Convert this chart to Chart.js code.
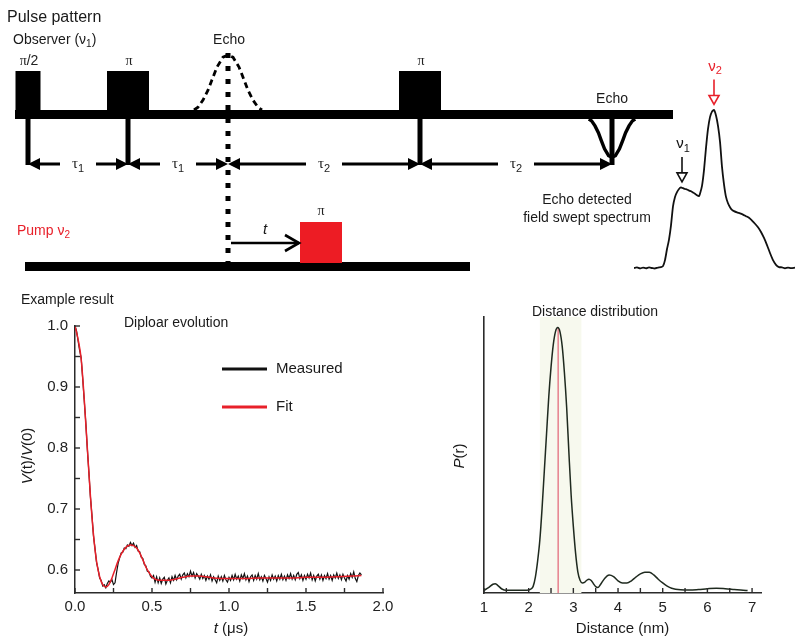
<!DOCTYPE html>
<html><head><meta charset="utf-8">
<script src="https://cdn.jsdelivr.net/npm/chart.js@4.4.1/dist/chart.umd.min.js"></script>
<style>
html,body{margin:0;padding:0;background:#fff;}
#wrap{position:relative;width:800px;height:643px;overflow:hidden;background:#fff;}
canvas{position:absolute;}
</style></head><body>
<div id="wrap">
<canvas id="diag" width="800" height="280" style="left:0;top:0"></canvas>
<canvas id="spec" width="170" height="220" style="left:630px;top:60px"></canvas>
<canvas id="dip" width="400" height="363" style="left:0;top:280px"></canvas>
<canvas id="dist" width="400" height="363" style="left:400px;top:280px"></canvas>
</div>
<script>
// ---------------- DATA ----------------
// Pulse sequence (time units, arbitrary ns-like)
const OBS_PULSES = [{label:'π/2', t:0, len:25}, {label:'π', t:100, len:42}, {label:'π', t:392, len:42}];
const ECHOES = [{label:'Echo', t:200, virtual:true}, {label:'Echo', t:584, virtual:false}];
const DELAYS = [{from:0, to:100, sub:'1'}, {from:100, to:200, sub:'1'}, {from:200, to:392, sub:'2'}, {from:392, to:584, sub:'2'}];
const PUMP_PULSE = {label:'π', t:293, len:42};
const OBS_SPAN = [-13, 645];
const PUMP_SPAN = [-3, 442];
const ECHO_DT = [-34, -30, -25, -20, -16, -11, -5, 0, 5, 11, 16, 20, 25, 30, 34];
const ECHO_A  = [0, 0.05, 0.18, 0.36, 0.55, 0.78, 0.96, 1, 0.96, 0.78, 0.55, 0.36, 0.18, 0.05, 0];

// Echo detected field swept spectrum
const specField = [0,3,6,9,12,15,18,21,24,27,29,31,33,35,37,39,41,43,45,47,49,51,53,55,57,59,61,63,65,66,68,70,72,74,76,78,80,82,84,86,88,90,92,94,96,98,100,103,106,109,112,115,118,121,124,127,130,133,136,139,142,145,148,151,154,157,161];
const specInt = [0,0.004,-0.003,0.003,-0.002,0.004,0,-0.003,0.003,0.005,0.012,0.05,0.12,0.18,0.27,0.39,0.45,0.48,0.50,0.51,0.505,0.50,0.497,0.49,0.486,0.478,0.47,0.46,0.455,0.47,0.52,0.62,0.76,0.88,0.955,0.99,1.0,0.965,0.90,0.80,0.64,0.53,0.45,0.41,0.385,0.368,0.36,0.352,0.346,0.338,0.328,0.318,0.30,0.28,0.258,0.228,0.19,0.145,0.095,0.05,0.02,0.006,0.004,-0.002,0.003,-0.001,0.002];
const specMarks = [{sym:'ν', sub:'1', field:48, tip:0.545, color:'#111111'}, {sym:'ν', sub:'2', field:80, tip:1.035, color:'#e8202a'}];

// Dipolar evolution
const measuredT0 = 0, measuredDt = 0.01; // sampling grid (µs)
const measuredV = [
1.000,0.992,0.976,0.960,0.948,0.914,0.878,0.842,0.799,0.761,
0.720,0.690,0.656,0.635,0.612,0.601,0.587,0.583,0.574,0.576,
0.571,0.578,0.582,0.580,0.584,0.576,0.579,0.596,0.611,0.620,
0.628,0.629,0.636,0.635,0.641,0.639,0.645,0.640,0.644,0.637,
0.640,0.631,0.630,0.621,0.619,0.609,0.607,0.598,0.597,0.590,
0.587,0.591,0.580,0.589,0.579,0.587,0.578,0.585,0.588,0.577,
0.583,0.587,0.579,0.589,0.583,0.591,0.584,0.590,0.593,0.585,
0.592,0.595,0.587,0.594,0.589,0.598,0.590,0.596,0.587,0.594,
0.590,0.585,0.593,0.586,0.591,0.583,0.590,0.585,0.592,0.582,
0.589,0.584,0.579,0.590,0.583,0.589,0.582,0.591,0.584,0.580,
0.588,0.583,0.591,0.584,0.593,0.585,0.590,0.582,0.592,0.586,
0.594,0.584,0.590,0.581,0.589,0.592,0.583,0.591,0.585,0.594,
0.584,0.589,0.582,0.591,0.586,0.580,0.589,0.583,0.592,0.585,
0.590,0.582,0.591,0.585,0.593,0.584,0.590,0.583,0.592,0.586,
0.594,0.585,0.591,0.584,0.593,0.596,0.586,0.592,0.583,0.591,
0.585,0.593,0.587,0.595,0.584,0.591,0.582,0.590,0.593,0.585,
0.592,0.583,0.591,0.586,0.594,0.585,0.591,0.583,0.592,0.587,
0.595,0.586,0.592,0.584,0.593,0.587,0.582,0.591,0.585,0.594,
0.588,0.597,0.586,0.581,0.591,0.595,0.592];
const fitT = [0,0.02,0.04,0.06,0.08,0.10,0.12,0.14,0.16,0.18,0.20,0.22,0.24,0.26,0.28,0.30,0.32,0.34,0.36,0.38,0.40,0.42,0.44,0.46,0.48,0.50,0.52,0.55,0.60,0.65,0.70,0.75,0.80,0.85,0.90,1.00,1.10,1.20,1.30,1.40,1.50,1.60,1.70,1.80,1.86];
const fitV = [1.000,0.978,0.946,0.880,0.800,0.722,0.658,0.614,0.589,0.576,0.572,0.576,0.587,0.601,0.615,0.626,0.634,0.639,0.641,0.640,0.636,0.628,0.617,0.605,0.596,0.589,0.585,0.583,0.583,0.585,0.588,0.590,0.590,0.589,0.587,0.586,0.586,0.587,0.587,0.587,0.588,0.588,0.589,0.590,0.591];
const dipXTicks = [0,0.25,0.5,0.75,1.0,1.25,1.5,1.75,2.0];
const dipYTicks = [0.6,0.65,0.7,0.75,0.8,0.85,0.9,0.95,1.0];
const dipLegend = [{label:'Measured', color:'#111111'}, {label:'Fit', color:'#e8202a'}];

// Distance distribution
const distR = [1.00,1.10,1.20,1.25,1.30,1.40,1.50,1.70,1.90,2.00,2.05,2.10,2.15,2.20,2.25,2.30,2.35,2.40,2.45,2.50,2.55,2.60,2.65,2.70,2.75,2.80,2.85,2.90,2.95,3.00,3.05,3.10,3.15,3.20,3.25,3.30,3.35,3.40,3.45,3.50,3.55,3.60,3.70,3.80,3.90,4.00,4.10,4.20,4.30,4.40,4.50,4.60,4.70,4.80,4.90,5.00,5.10,5.20,5.40,5.60,5.80,6.00,6.20,6.40,6.60,6.80,6.90];
const distP = [0.010,0.020,0.033,0.035,0.030,0.015,0.010,0.010,0.010,0.011,0.015,0.025,0.060,0.120,0.200,0.320,0.460,0.600,0.740,0.850,0.935,0.985,1.000,0.985,0.930,0.830,0.700,0.530,0.370,0.250,0.150,0.080,0.048,0.038,0.040,0.048,0.052,0.047,0.035,0.024,0.021,0.030,0.055,0.068,0.062,0.046,0.038,0.038,0.046,0.060,0.072,0.078,0.078,0.068,0.052,0.038,0.026,0.018,0.012,0.011,0.013,0.016,0.018,0.016,0.013,0.010,0.009];
const distXTicks = [1,1.5,2,2.5,3,3.5,4,4.5,5,5.5,6,6.5,7];
const distBand = [2.25, 3.18];
const distMean = 2.66;

// ---------------- STYLE ----------------
const SANS = '"Liberation Sans", Arial, Helvetica, sans-serif';
const SERIF = '"Liberation Serif", "Times New Roman", serif';
const RED = '#e8202a';
const INK = '#1a1a1a';
const AXIS = '#2b2b2b';
Chart.defaults.font.family = SANS;

function rich(ctx, parts, x, y, opt) {
  const size = opt.size || 14;
  const fontFor = p => (p.italic ? 'italic ' : '') + (p.sub ? Math.round(size * 0.72) : size) + 'px ' + (p.serif ? SERIF : SANS);
  let w = 0;
  parts.forEach(p => { ctx.font = fontFor(p); p.w = ctx.measureText(p.t).width; w += p.w; });
  let cx = opt.align === 'center' ? x - w / 2 : (opt.align === 'right' ? x - w : x);
  ctx.textAlign = 'left'; ctx.textBaseline = 'middle';
  parts.forEach(p => {
    ctx.font = fontFor(p);
    ctx.fillStyle = p.color || opt.color || INK;
    ctx.fillText(p.t, cx, y + (p.sub ? size * 0.32 : 0));
    cx += p.w;
  });
}

function innerTicks(chart, id, len, horizontal) {
  const ctx = chart.ctx, s = chart.scales[id], a = chart.chartArea;
  ctx.save(); ctx.strokeStyle = AXIS; ctx.lineWidth = 1.4;
  s.ticks.forEach(t => {
    const p = s.getPixelForValue(t.value);
    ctx.beginPath();
    if (horizontal) { ctx.moveTo(p, a.bottom); ctx.lineTo(p, a.bottom - len); }
    else { ctx.moveTo(a.left, p); ctx.lineTo(a.left + len, p); }
    ctx.stroke();
  });
  ctx.restore();
}

// ---------------- PULSE DIAGRAM ----------------
const L = {obsTop:110, obsH:9, pulseH:39, arrowY:164, echoH:55, echo2Depth:45, pumpTop:262, pumpH:9, pumpPulseH:40, tArrowY:243, pulseLabelY:61, echoLabelY:40};
const diagPlugin = {
  id: 'pulseDiagram',
  afterDraw(chart) {
    const ctx = chart.ctx, sx = chart.scales.x, sy = chart.scales.y;
    const X = v => sx.getPixelForValue(v), Y = v => sy.getPixelForValue(v);
    ctx.save();
    rich(ctx, [{t:'Pulse pattern'}], 7, Y(18), {size:16});
    rich(ctx, [{t:'Observer (ν'}, {t:'1', sub:true}, {t:')'}], 13, Y(40), {size:14});
    ctx.fillStyle = '#000';
    ctx.fillRect(X(OBS_SPAN[0]), Y(L.obsTop), X(OBS_SPAN[1]) - X(OBS_SPAN[0]), L.obsH);
    OBS_PULSES.forEach(p => {
      ctx.fillStyle = '#000';
      ctx.fillRect(X(p.t - p.len / 2), Y(L.obsTop - L.pulseH), X(p.t + p.len / 2) - X(p.t - p.len / 2), L.pulseH + 1);
      const parts = p.label === 'π' ? [{t:'π', serif:true}] : [{t:'π', serif:true}, {t:'/2'}];
      rich(ctx, parts, X(p.t) + 1, Y(L.pulseLabelY), {size:14, align:'center', color:'#222'});
      ctx.fillStyle = '#000';
      ctx.fillRect(X(p.t) - 2.5, Y(L.obsTop + L.obsH), 5, L.arrowY - L.obsTop - L.obsH + 1);
    });
    ECHOES.forEach(e => {
      ctx.strokeStyle = '#000';
      if (e.virtual) {
        ctx.lineWidth = 2.8; ctx.setLineDash([6, 4]);
        ctx.beginPath();
        ECHO_DT.forEach((d, i) => { const x = X(e.t + d), y = Y(L.obsTop - ECHO_A[i] * L.echoH); i ? ctx.lineTo(x, y) : ctx.moveTo(x, y); });
        ctx.stroke();
        ctx.lineWidth = 5; ctx.setLineDash([5, 8]);
        ctx.beginPath(); ctx.moveTo(X(e.t), Y(L.obsTop - L.echoH - 2)); ctx.lineTo(X(e.t), Y(L.pumpTop + L.pumpH + 1)); ctx.stroke();
        ctx.setLineDash([]);
        rich(ctx, [{t:e.label}], X(e.t) + 1, Y(L.echoLabelY), {size:14, align:'center'});
      } else {
        ctx.lineWidth = 3.4; ctx.setLineDash([]);
        [-1, 1].forEach(side => {
          ctx.beginPath();
          const idx = side < 0 ? [0,1,2,3,4,5,6,7] : [14,13,12,11,10,9,8,7];
          idx.forEach((k, j) => { const x = X(e.t + ECHO_DT[k] * 0.68), y = Y(L.obsTop + L.obsH + ECHO_A[k] * L.echo2Depth * 0.85); j ? ctx.lineTo(x, y) : ctx.moveTo(x, y); });
          ctx.stroke();
        });
        ctx.fillStyle = '#000';
        ctx.fillRect(X(e.t) - 2.5, Y(L.obsTop + L.obsH), 5, L.arrowY - L.obsTop - L.obsH + 1);
        rich(ctx, [{t:e.label}], X(e.t), Y(L.obsTop - 11), {size:14, align:'center'});
      }
    });
    DELAYS.forEach(d => {
      const x1 = X(d.from), x2 = X(d.to), mid = (x1 + x2) / 2, y = Y(L.arrowY);
      ctx.strokeStyle = '#000'; ctx.fillStyle = '#000'; ctx.lineWidth = 3;
      ctx.beginPath(); ctx.moveTo(x1 + 4, y); ctx.lineTo(mid - 18, y); ctx.moveTo(mid + 18, y); ctx.lineTo(x2 - 4, y); ctx.stroke();
      ctx.beginPath(); ctx.moveTo(x1, y); ctx.lineTo(x1 + 12, y - 6); ctx.lineTo(x1 + 12, y + 6); ctx.closePath(); ctx.fill();
      ctx.beginPath(); ctx.moveTo(x2, y); ctx.lineTo(x2 - 12, y - 6); ctx.lineTo(x2 - 12, y + 6); ctx.closePath(); ctx.fill();
      rich(ctx, [{t:'τ', serif:true}, {t:d.sub, sub:true}], mid, y, {size:15, align:'center', color:'#222'});
    });
    rich(ctx, [{t:'Echo detected'}], 587, Y(200), {size:14, align:'center'});
    rich(ctx, [{t:'field swept spectrum'}], 587, Y(218), {size:14, align:'center'});
    rich(ctx, [{t:'Pump ν', color:RED}, {t:'2', sub:true, color:RED}], 17, Y(231), {size:14});
    ctx.fillStyle = '#000';
    ctx.fillRect(X(PUMP_SPAN[0]), Y(L.pumpTop), X(PUMP_SPAN[1]) - X(PUMP_SPAN[0]), L.pumpH);
    ctx.fillStyle = '#ed1c24';
    ctx.fillRect(X(PUMP_PULSE.t - PUMP_PULSE.len / 2), Y(L.pumpTop - L.pumpPulseH), X(PUMP_PULSE.t + PUMP_PULSE.len / 2) - X(PUMP_PULSE.t - PUMP_PULSE.len / 2), L.pumpPulseH + 1);
    rich(ctx, [{t:'π', serif:true}], X(PUMP_PULSE.t), Y(L.pumpTop - L.pumpPulseH - 11), {size:14, align:'center', color:'#222'});
    const ax1 = X(ECHOES[0].t) + 3, ax2 = X(PUMP_PULSE.t - PUMP_PULSE.len / 2) - 1, ay = Y(L.tArrowY);
    ctx.strokeStyle = '#000'; ctx.lineWidth = 2.6;
    ctx.beginPath(); ctx.moveTo(ax1, ay); ctx.lineTo(ax2, ay); ctx.stroke();
    ctx.beginPath(); ctx.moveTo(ax2 - 14, ay - 8); ctx.lineTo(ax2, ay); ctx.lineTo(ax2 - 14, ay + 8); ctx.stroke();
    rich(ctx, [{t:'t', italic:true}], (ax1 + ax2) / 2, Y(L.tArrowY - 13), {size:15, align:'center'});
    ctx.restore();
  }
};
new Chart(document.getElementById('diag'), {
  type: 'scatter',
  data: {datasets: []},
  options: {
    responsive:false, animation:false, events:[],
    layout:{padding:0},
    plugins:{legend:{display:false}, tooltip:{enabled:false}},
    scales:{
      x:{type:'linear', display:false, min:-28, max:772},
      y:{type:'linear', display:false, min:0, max:280, reverse:true}
    }
  },
  plugins:[diagPlugin]
});

// ---------------- SPECTRUM ----------------
const specPlugin = {
  id:'specMarks',
  afterDraw(chart) {
    const ctx = chart.ctx, sx = chart.scales.x, sy = chart.scales.y;
    ctx.save();
    specMarks.forEach(m => {
      const x = sx.getPixelForValue(m.field), tip = sy.getPixelForValue(m.tip);
      const base = tip - 9, top = base - 16;
      ctx.strokeStyle = m.color; ctx.lineWidth = 1.6;
      ctx.beginPath(); ctx.moveTo(x, top); ctx.lineTo(x, base); ctx.stroke();
      ctx.fillStyle = '#fff';
      ctx.beginPath(); ctx.moveTo(x, tip); ctx.lineTo(x - 5, base); ctx.lineTo(x + 5, base); ctx.closePath(); ctx.fill(); ctx.stroke();
      rich(ctx, [{t:m.sym, color:m.color}, {t:m.sub, sub:true, color:m.color}], x + 1, top - 13, {size:15, align:'center'});
    });
    ctx.restore();
  }
};
new Chart(document.getElementById('spec'), {
  type:'line',
  data:{datasets:[{data: specField.map((f, i) => ({x:f, y:specInt[i]})), borderColor:'#111', borderWidth:1.8, pointRadius:0, tension:0.2}]},
  options:{
    responsive:false, animation:false, events:[],
    layout:{padding:{left:4, right:5, top:34.2, bottom:4.1}},
    plugins:{legend:{display:false}, tooltip:{enabled:false}},
    scales:{
      x:{type:'linear', display:false, min:0, max:161},
      y:{type:'linear', display:false, min:-0.05, max:1.1}
    }
  },
  plugins:[specPlugin]
});

// ---------------- DIPOLAR EVOLUTION ----------------
const dipPlugin = {
  id:'dipDecor',
  afterDraw(chart) {
    const ctx = chart.ctx, a = chart.chartArea;
    innerTicks(chart, 'x', 5, true);
    innerTicks(chart, 'y', 5, false);
    ctx.save();
    rich(ctx, [{t:'Example result'}], 21, 20, {size:14});
    rich(ctx, [{t:'Diploar evolution'}], 124, 43, {size:14});
    dipLegend.forEach((l, i) => {
      const y = 89 + i * 38;
      ctx.strokeStyle = l.color; ctx.lineWidth = 3;
      ctx.beginPath(); ctx.moveTo(222, y); ctx.lineTo(267, y); ctx.stroke();
      rich(ctx, [{t:l.label}], 276, y, {size:15});
    });
    rich(ctx, [{t:'t', italic:true}, {t:' (μs)'}], (a.left + a.right) / 2 + 2, 349, {size:15, align:'center'});
    ctx.translate(28, 176); ctx.rotate(-Math.PI / 2);
    rich(ctx, [{t:'V', italic:true}, {t:'(t)/'}, {t:'V', italic:true}, {t:'(0)'}], 0, 0, {size:15, align:'center'});
    ctx.restore();
  }
};
new Chart(document.getElementById('dip'), {
  type:'line',
  data:{datasets:[
    {label:'Fit', data: fitT.map((t, i) => ({x:t, y:fitV[i]})), borderColor:RED, borderWidth:1.5, pointRadius:0, cubicInterpolationMode:'monotone', order:0},
    {label:'Measured', data: measuredV.map((v, i) => ({x:measuredT0 + i * measuredDt, y:v})), borderColor:'#111', borderWidth:1.2, pointRadius:0, tension:0, order:1}
  ]},
  options:{
    responsive:false, animation:false, events:[],
    layout:{padding:{left:0, top:46, right:17, bottom:0}},
    plugins:{legend:{display:false}, tooltip:{enabled:false}},
    scales:{
      x:{type:'linear', min:0, max:2,
        afterBuildTicks: s => { s.ticks = dipXTicks.map(v => ({value:v})); },
        afterFit: s => { s.height = 50; },
        ticks:{autoSkip:false, maxRotation:0, padding:5, color:'#222', font:{size:15},
          callback: v => Math.abs(v * 2 - Math.round(v * 2)) < 1e-6 ? v.toFixed(1) : ''},
        grid:{display:false, drawTicks:false}, border:{display:true, color:AXIS, width:1.5}},
      y:{type:'linear', min:0.5623, max:1.0,
        afterBuildTicks: s => { s.ticks = dipYTicks.map(v => ({value:v})); },
        afterFit: s => { s.width = 75; },
        ticks:{autoSkip:false, padding:7, color:'#222', font:{size:15},
          callback: v => Math.abs(v * 10 - Math.round(v * 10)) < 1e-6 ? v.toFixed(1) : ''},
        grid:{display:false, drawTicks:false}, border:{display:true, color:AXIS, width:1.5}}
    }
  },
  plugins:[dipPlugin]
});

// ---------------- DISTANCE DISTRIBUTION ----------------
const distPlugin = {
  id:'distDecor',
  beforeDatasetsDraw(chart) {
    const ctx = chart.ctx, a = chart.chartArea, sx = chart.scales.x, sy = chart.scales.y;
    ctx.save();
    ctx.fillStyle = '#f7f9ee';
    const b1 = sx.getPixelForValue(distBand[0]), b2 = sx.getPixelForValue(distBand[1]);
    ctx.fillRect(b1, a.top, b2 - b1, a.bottom - a.top);
    ctx.strokeStyle = '#e57f8c'; ctx.lineWidth = 1.5;
    const xm = sx.getPixelForValue(distMean);
    ctx.beginPath(); ctx.moveTo(xm, sy.getPixelForValue(1.0)); ctx.lineTo(xm, a.bottom); ctx.stroke();
    ctx.restore();
  },
  afterDraw(chart) {
    const ctx = chart.ctx, a = chart.chartArea;
    innerTicks(chart, 'x', 5, true);
    ctx.save();
    rich(ctx, [{t:'Distance distribution'}], 195, 32, {size:14, align:'center'});
    rich(ctx, [{t:'Distance (nm)'}], (a.left + a.right) / 2, 349, {size:15, align:'center'});
    ctx.translate(60, 176); ctx.rotate(-Math.PI / 2);
    rich(ctx, [{t:'P', italic:true}, {t:'(r)'}], 0, 0, {size:15, align:'center'});
    ctx.restore();
  }
};
new Chart(document.getElementById('dist'), {
  type:'line',
  data:{datasets:[{label:'P(r)', data: distR.map((r, i) => ({x:r, y:distP[i]})), borderColor:'#1f2a1f', borderWidth:1.5, pointRadius:0, cubicInterpolationMode:'monotone'}]},
  options:{
    responsive:false, animation:false, events:[],
    layout:{padding:{left:0, top:37, right:39, bottom:0}},
    plugins:{legend:{display:false}, tooltip:{enabled:false}},
    scales:{
      x:{type:'linear', min:1, max:7.2,
        afterBuildTicks: s => { s.ticks = distXTicks.map(v => ({value:v})); },
        afterFit: s => { s.height = 50; },
        ticks:{autoSkip:false, maxRotation:0, padding:6, color:'#222', font:{size:15},
          callback: v => Number.isInteger(v) ? String(v) : ''},
        grid:{display:false, drawTicks:false}, border:{display:true, color:AXIS, width:1.6}},
      y:{type:'linear', min:0, max:1.04,
        afterFit: s => { s.width = 84; },
        ticks:{display:false},
        grid:{display:false, drawTicks:false}, border:{display:true, color:AXIS, width:1.6}}
    }
  },
  plugins:[distPlugin]
});
</script>
</body></html>
